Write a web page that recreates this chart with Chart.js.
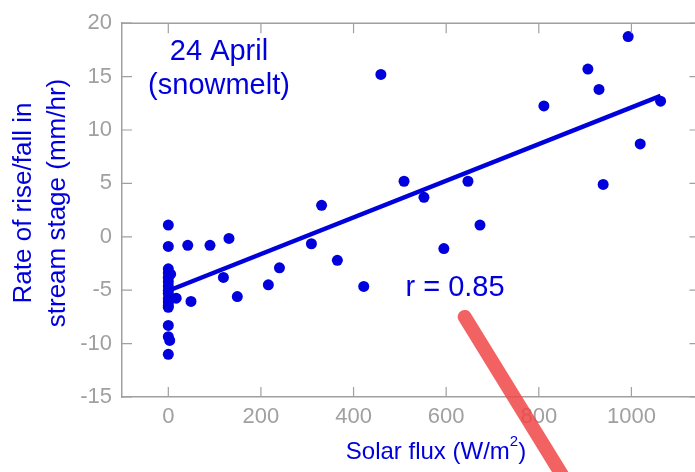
<!DOCTYPE html>
<html>
<head>
<meta charset="utf-8">
<script src="https://cdn.jsdelivr.net/npm/chart.js@4"></script>
<style>
  html, body { margin: 0; padding: 0; overflow: hidden; background: #fff; }
  #wrap { width: 705px; height: 472px; }
</style>
</head>
<body>
<div id="wrap"><canvas id="fluxChart" width="705" height="472"></canvas></div>
<script>
// solar flux (W/m2) vs rate of rise/fall in stream stage (mm/hr)
const fluxValues = [0, 0, 0, 0, 0, 0, 0, 0, 0, 0, 0, 0, 0, 0, 0, 0,
  5, 3, 17, 42, 49, 90, 119, 131, 149, 216, 240, 309, 331, 365, 422,
  459, 509, 552, 595, 647, 673, 811, 906, 930, 939, 993, 1019, 1063];
const rateValues = [1.1, -0.9, -3.0, -3.4, -3.8, -4.2, -4.6, -5.0, -5.3, -5.8, -6.1, -6.4, -6.6, -8.3, -9.35, -11.0,
  -3.5, -9.7, -5.75, -0.8, -6.05, -0.8, -3.8, -0.15, -5.6, -4.5, -2.9, -0.65, 2.95, -2.2, -4.65,
  15.2, 5.2, 3.7, -1.1, 5.2, 1.1, 12.25, 15.7, 13.8, 4.9, 18.75, 8.7, 12.7];

// fitted line end points
const fitX = [0, 1063];
const fitY = [-5.05, 13.2];

const xTicks = [0, 200, 400, 600, 800, 1000];
const yTicks = [-15, -10, -5, 0, 5, 10, 15, 20];

// red pointer drawn over the plot (data units)
const pointerX = [640, 877];
const pointerY = [-7.5, -24.2];

const BLUE = '#0000dd';
const GREY = '#a0a0a0';
const FONT = '"Liberation Sans", Arial, sans-serif';

const scatterPoints = fluxValues.map((v, i) => ({ x: v, y: rateValues[i] }));
const fitPoints = fitX.map((v, i) => ({ x: v, y: fitY[i] }));

// box round the plot and inward tick marks
const framePlugin = {
  id: 'frame',
  afterDraw(chart) {
    const { ctx, chartArea: a, scales } = chart;
    ctx.save();
    ctx.strokeStyle = GREY;
    ctx.lineWidth = 1.5;
    ctx.beginPath();
    ctx.moveTo(a.left, a.top); ctx.lineTo(a.right, a.top); ctx.lineTo(a.right, a.bottom);
    ctx.stroke();
    ctx.lineWidth = 1.2;
    xTicks.forEach(t => {
      const px = scales.x.getPixelForValue(t);
      ctx.beginPath();
      ctx.moveTo(px, a.bottom); ctx.lineTo(px, a.bottom - 10);
      ctx.moveTo(px, a.top); ctx.lineTo(px, a.top + 10);
      ctx.stroke();
    });
    yTicks.forEach(t => {
      const py = scales.y.getPixelForValue(t);
      ctx.beginPath();
      ctx.moveTo(a.left, py); ctx.lineTo(a.left + 10, py);
      ctx.moveTo(a.right, py); ctx.lineTo(a.right - 10, py);
      ctx.stroke();
    });
    ctx.restore();
  }
};

function rotatedText(ctx, text, x, y) {
  ctx.save();
  ctx.translate(x, y);
  ctx.rotate(-Math.PI / 2);
  ctx.fillText(text, 0, 0);
  ctx.restore();
}

// titles and notes
const textPlugin = {
  id: 'notes',
  afterDraw(chart) {
    const { ctx, scales } = chart;
    ctx.save();
    ctx.fillStyle = BLUE;
    ctx.textAlign = 'center';
    ctx.textBaseline = 'middle';
    ctx.font = '29px ' + FONT;
    ctx.fillText('24 April', 219, 52);
    ctx.fillText('(snowmelt)', 219, 86);
    ctx.fillText('r = 0.85', 455, 288);

    // x title with superscript
    ctx.font = '24px ' + FONT;
    ctx.textAlign = 'left';
    const main = 'Solar flux (W/m';
    const w1 = ctx.measureText(main).width;
    ctx.font = '15px ' + FONT;
    const w2 = ctx.measureText('2').width;
    ctx.font = '24px ' + FONT;
    const w3 = ctx.measureText(')').width;
    const x0 = 436 - (w1 + w2 + w3) / 2;
    ctx.fillText(main, x0, 452);
    ctx.font = '15px ' + FONT;
    ctx.fillText('2', x0 + w1, 442);
    ctx.font = '24px ' + FONT;
    ctx.fillText(')', x0 + w1 + w2, 452);

    // y title, two lines
    ctx.textAlign = 'center';
    ctx.font = '26px ' + FONT;
    rotatedText(ctx, 'Rate of rise/fall in', 24, 203);
    rotatedText(ctx, 'stream stage (mm/hr)', 58, 203);
    ctx.restore();

    // red pointer
    ctx.save();
    ctx.strokeStyle = 'rgba(240, 70, 70, 0.85)';
    ctx.lineWidth = 14;
    ctx.lineCap = 'round';
    ctx.beginPath();
    ctx.moveTo(scales.x.getPixelForValue(pointerX[0]), scales.y.getPixelForValue(pointerY[0]));
    ctx.lineTo(scales.x.getPixelForValue(pointerX[1]), scales.y.getPixelForValue(pointerY[1]));
    ctx.stroke();
    ctx.restore();
  }
};

new Chart(document.getElementById('fluxChart').getContext('2d'), {
  type: 'scatter',
  data: {
    datasets: [
      {
        label: 'fit',
        data: fitPoints,
        showLine: true,
        borderColor: BLUE,
        borderWidth: 4.5,
        pointRadius: 0,
        order: 2
      },
      {
        label: 'observations',
        data: scatterPoints,
        backgroundColor: BLUE,
        borderWidth: 0,
        pointRadius: 5.5,
        order: 1
      }
    ]
  },
  options: {
    responsive: false,
    animation: false,
    layout: { padding: { top: 16, right: 5, left: 0, bottom: 0 } },
    plugins: { legend: { display: false }, tooltip: { enabled: false } },
    scales: {
      x: {
        type: 'linear',
        min: -100,
        max: 1147,
        afterBuildTicks: s => { s.ticks = xTicks.map(v => ({ value: v })); },
        afterFit: s => { s.height = 75; },
        grid: { drawOnChartArea: false, drawTicks: false },
        border: { color: GREY, width: 1.5 },
        ticks: { color: GREY, font: { family: FONT, size: 22 }, padding: 7, callback: v => String(v) }
      },
      y: {
        min: -15,
        max: 20,
        afterBuildTicks: s => { s.ticks = yTicks.map(v => ({ value: v })); },
        afterFit: s => { s.width = 122; },
        grid: { drawOnChartArea: false, drawTicks: false },
        border: { color: GREY, width: 1.5 },
        ticks: { color: GREY, font: { family: FONT, size: 22 }, padding: 10, callback: v => String(v) }
      }
    }
  },
  plugins: [framePlugin, textPlugin]
});
</script>
</body>
</html>
